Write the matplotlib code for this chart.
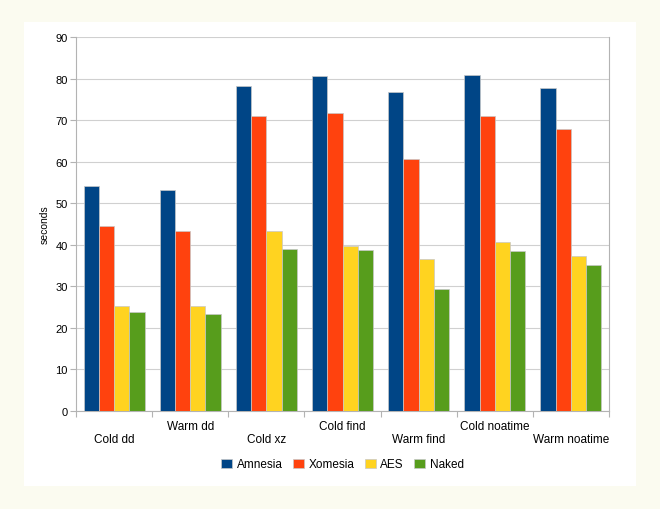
import matplotlib
matplotlib.use("Agg")
import matplotlib.pyplot as plt
from matplotlib.patches import Rectangle
import numpy as np

categories = ["Cold dd", "Warm dd", "Cold xz", "Cold find", "Warm find",
              "Cold noatime", "Warm noatime"]
series_names = ["Amnesia", "Xomesia", "AES", "Naked"]
amnesia = [54.2, 53.1, 78.2, 80.5, 76.8, 80.9, 77.7]
xomesia = [44.6, 43.3, 71.0, 71.7, 60.7, 71.1, 67.8]
aes = [25.3, 25.3, 43.3, 39.8, 36.5, 40.6, 37.4]
naked = [23.8, 23.3, 39.1, 38.7, 29.3, 38.4, 35.1]
colors = ["#004586", "#ff420e", "#ffd320", "#579d1c"]

plt.rcParams['font.family'] = ['Liberation Sans', 'DejaVu Sans']

W, H = 660, 510
fig = plt.figure(figsize=(W / 100, H / 100), dpi=100)
fig.patch.set_facecolor("#fbfbf0")
fig.patches.append(Rectangle((24 / W, 1 - 487 / H), (636 - 24) / W, (487 - 23) / H,
                             transform=fig.transFigure, facecolor="white",
                             edgecolor="none", zorder=-10))

ax = fig.add_axes([76 / W, 1 - 412 / H, (609 - 76) / W, (412 - 38) / H])
ax.set_zorder(1)
ax.set_facecolor("white")

x = np.arange(len(categories))
bw = 0.2
for i, (vals, name) in enumerate(zip([amnesia, xomesia, aes, naked], series_names)):
    ax.bar(x - 0.3 + i * bw, vals, bw, color=colors[i], label=name,
           edgecolor="#c8c8c8", linewidth=0.5, zorder=3)

ax.set_xlim(-0.5, len(categories) - 0.5)
ax.set_ylim(0, 90)
ax.set_yticks(range(0, 91, 10))
ax.yaxis.grid(True, color="#d0d0d0", linewidth=0.8, zorder=0)
ax.set_axisbelow(True)

ax.set_xticks(np.arange(len(categories) + 1) - 0.5)
ax.set_xticklabels([])
ax.tick_params(axis="x", length=4, color="#b3b3b3", direction="out")
ax.tick_params(axis="y", length=4, color="#b3b3b3", direction="out", labelsize=8,
               pad=2)
for i, c in enumerate(categories):
    yoff = -0.058 if i % 2 == 0 else -0.024
    ax.text(i, yoff, c, transform=ax.get_xaxis_transform(), ha="center",
            va="top", fontsize=8.5)

for s in ["left", "bottom", "right"]:
    ax.spines[s].set_color("#b3b3b3")
ax.spines["top"].set_visible(False)

ax.set_ylabel("seconds", fontsize=7.5, labelpad=4)

ax.legend(loc="center", bbox_to_anchor=(0.5, -0.143), ncol=4, frameon=False,
          fontsize=8.5, handlelength=0.9, handleheight=0.9, handletextpad=0.4,
          columnspacing=0.9)

fig.savefig("out.png", dpi=100, facecolor=fig.get_facecolor())
